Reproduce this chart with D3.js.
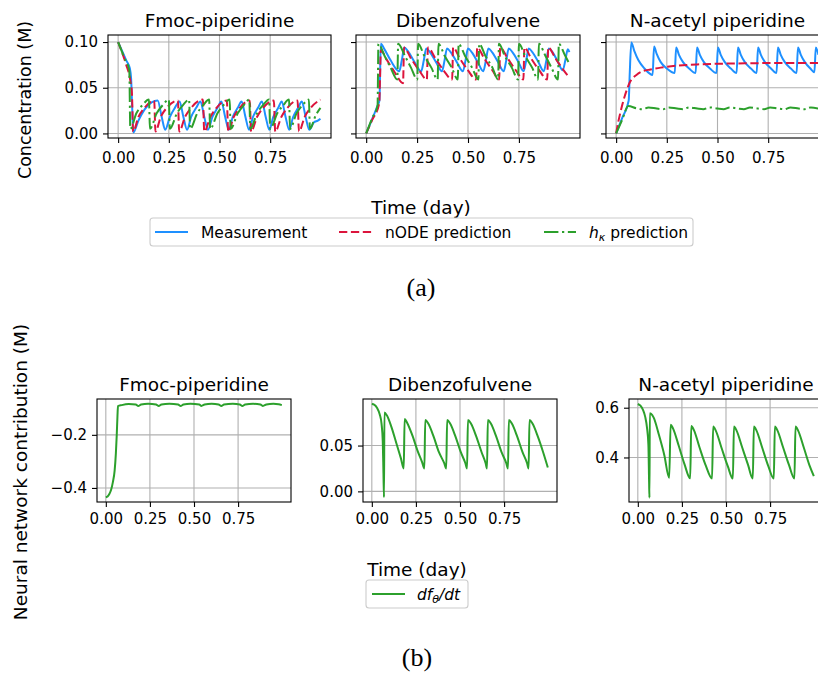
<!DOCTYPE html>
<html>
<head>
<meta charset="utf-8">
<script src="https://cdn.jsdelivr.net/npm/d3@7"></script>
<style>
  body { margin: 0; background: #fff; }
  svg { display: block; font-family: 'DejaVu Sans', sans-serif; }
</style>
</head>
<body>
<svg id="chart" width="818" height="677"></svg>
<script>
// ---- data ----
const titles = ['Fmoc-piperidine', 'Dibenzofulvene', 'N-acetyl piperidine'];
const xTicks = [0, 0.25, 0.5, 0.75];
const concTicks = [0, 0.05, 0.1];
const nnTicks = [[-0.4, -0.2], [0, 0.05], [0.4, 0.6]];

// (a) Fmoc-piperidine  [time (day), concentration (M)]
const fmocMeas = [[0,0.100],[0.02,0.090],[0.04,0.080],[0.058,0.071],[0.064,0.060],[0.069,0.030],[0.075,0.001],
  [0.10,0.014],[0.13,0.026],[0.165,0.034],[0.195,0.036],[0.215,0.018],[0.232,0.004],
  [0.255,0.018],[0.28,0.028],[0.303,0.035],[0.322,0.018],[0.34,0.004],
  [0.36,0.018],[0.385,0.028],[0.406,0.035],[0.425,0.018],[0.443,0.004],
  [0.465,0.018],[0.49,0.028],[0.509,0.035],[0.528,0.018],[0.546,0.004],
  [0.565,0.018],[0.59,0.028],[0.609,0.035],[0.628,0.018],[0.646,0.004],
  [0.665,0.018],[0.69,0.028],[0.709,0.035],[0.728,0.018],[0.746,0.004],
  [0.765,0.018],[0.79,0.028],[0.807,0.035],[0.826,0.018],[0.844,0.004],
  [0.863,0.018],[0.888,0.028],[0.906,0.035],[0.925,0.018],[0.943,0.004],
  [0.965,0.012],[0.985,0.014],[0.998,0.016]];
const fmocNode = [[0,0.100],[0.02,0.088],[0.04,0.075],[0.06,0.058],[0.068,0.044],[0.074,0.002],
  [0.10,0.018],[0.13,0.028],[0.178,0.036],[0.184,0.002],
  [0.21,0.018],[0.24,0.028],[0.295,0.036],[0.301,0.002],
  [0.33,0.018],[0.36,0.028],[0.418,0.037],[0.425,0.002],
  [0.455,0.018],[0.485,0.028],[0.536,0.036],[0.543,0.002],
  [0.57,0.018],[0.60,0.028],[0.649,0.036],[0.656,0.002],
  [0.685,0.018],[0.715,0.028],[0.768,0.036],[0.775,0.002],
  [0.805,0.018],[0.835,0.028],[0.885,0.036],[0.892,0.002],
  [0.92,0.018],[0.95,0.028],[0.998,0.037]];
const fmocHk = [[0,0.100],[0.03,0.083],[0.055,0.069],[0.06,0.005],
  [0.09,0.022],[0.12,0.031],[0.152,0.037],[0.157,0.005],
  [0.19,0.022],[0.22,0.031],[0.25,0.037],[0.255,0.005],
  [0.29,0.022],[0.32,0.031],[0.35,0.037],[0.355,0.005],
  [0.39,0.022],[0.42,0.031],[0.449,0.037],[0.454,0.005],
  [0.49,0.022],[0.52,0.031],[0.55,0.037],[0.555,0.005],
  [0.59,0.022],[0.62,0.031],[0.647,0.037],[0.652,0.005],
  [0.685,0.022],[0.715,0.031],[0.745,0.037],[0.75,0.005],
  [0.785,0.022],[0.815,0.031],[0.843,0.037],[0.848,0.005],
  [0.88,0.022],[0.91,0.031],[0.941,0.037],[0.946,0.005],
  [0.975,0.020],[0.998,0.028]];

// (a) Dibenzofulvene
const dbfMeas = [[0,0],[0.03,0.016],[0.055,0.030],[0.065,0.036],[0.072,0.098],
  [0.09,0.092],[0.12,0.080],[0.162,0.068],[0.175,0.080],[0.187,0.094],
  [0.205,0.090],[0.235,0.079],[0.27,0.068],[0.283,0.080],[0.295,0.093],
  [0.313,0.089],[0.343,0.078],[0.372,0.068],[0.385,0.080],[0.397,0.093],
  [0.415,0.089],[0.445,0.078],[0.475,0.068],[0.488,0.080],[0.50,0.093],
  [0.518,0.089],[0.548,0.078],[0.575,0.068],[0.588,0.080],[0.60,0.093],
  [0.618,0.089],[0.648,0.078],[0.675,0.068],[0.688,0.080],[0.70,0.093],
  [0.718,0.089],[0.748,0.078],[0.773,0.068],[0.786,0.080],[0.798,0.093],
  [0.816,0.089],[0.846,0.078],[0.872,0.068],[0.885,0.080],[0.897,0.093],
  [0.915,0.089],[0.94,0.079],[0.965,0.069],[0.978,0.080],[0.99,0.092],[0.998,0.089]];
const dbfNode = [[0,0],[0.03,0.015],[0.064,0.033],[0.068,0.060],[0.072,0.091],
  [0.10,0.081],[0.14,0.067],[0.181,0.055],[0.186,0.094],
  [0.22,0.082],[0.26,0.069],[0.298,0.059],[0.303,0.094],
  [0.34,0.082],[0.38,0.069],[0.422,0.059],[0.427,0.094],
  [0.46,0.082],[0.50,0.069],[0.54,0.059],[0.545,0.094],
  [0.58,0.082],[0.62,0.069],[0.653,0.059],[0.658,0.094],
  [0.695,0.082],[0.735,0.069],[0.772,0.059],[0.777,0.094],
  [0.81,0.082],[0.85,0.069],[0.889,0.059],[0.894,0.094],
  [0.93,0.082],[0.97,0.069],[0.998,0.061]];
const dbfHk = [[0,0],[0.03,0.017],[0.056,0.031],[0.06,0.098],
  [0.09,0.085],[0.12,0.072],[0.153,0.059],[0.157,0.098],
  [0.19,0.085],[0.22,0.072],[0.251,0.059],[0.255,0.098],
  [0.285,0.085],[0.32,0.072],[0.351,0.059],[0.355,0.098],
  [0.385,0.085],[0.42,0.072],[0.45,0.059],[0.454,0.098],
  [0.485,0.085],[0.52,0.072],[0.551,0.059],[0.555,0.098],
  [0.585,0.085],[0.62,0.072],[0.648,0.059],[0.652,0.098],
  [0.68,0.085],[0.715,0.072],[0.746,0.059],[0.75,0.098],
  [0.78,0.085],[0.815,0.072],[0.844,0.059],[0.848,0.098],
  [0.88,0.085],[0.91,0.072],[0.942,0.059],[0.946,0.098],
  [0.975,0.086],[0.998,0.076]];

// (a) N-acetyl piperidine
const napMeas = [[0,0],[0.03,0.017],[0.062,0.036],[0.067,0.065],[0.075,0.0995],
  [0.09,0.090],[0.11,0.080],[0.14,0.071],[0.18,0.064],[0.187,0.095],
  [0.20,0.087],[0.22,0.078],[0.25,0.071],[0.289,0.066],[0.296,0.094],
  [0.31,0.086],[0.33,0.078],[0.36,0.071],[0.392,0.066],[0.399,0.094],
  [0.413,0.086],[0.433,0.078],[0.463,0.071],[0.495,0.066],[0.502,0.094],
  [0.516,0.086],[0.536,0.078],[0.566,0.071],[0.594,0.066],[0.601,0.094],
  [0.615,0.086],[0.635,0.078],[0.665,0.071],[0.693,0.066],[0.70,0.094],
  [0.714,0.086],[0.734,0.078],[0.764,0.071],[0.791,0.066],[0.798,0.094],
  [0.812,0.086],[0.832,0.078],[0.862,0.071],[0.89,0.066],[0.897,0.094],
  [0.911,0.086],[0.931,0.078],[0.958,0.071],[0.978,0.067],[0.985,0.094],[0.998,0.086]];
const napNode = [[0,0],[0.01,0.012],[0.02,0.022],[0.03,0.031],[0.04,0.039],[0.05,0.046],[0.06,0.052],
  [0.07,0.057],[0.08,0.060],[0.10,0.064],[0.13,0.068],[0.17,0.070],[0.22,0.072],[0.30,0.0742],
  [0.40,0.0755],[0.50,0.0762],[0.60,0.0766],[0.70,0.0769],[0.80,0.0770],[0.90,0.0772],[1.0,0.0772]];
const napHk = [[0,0],[0.03,0.015],[0.06,0.030],[0.10,0.0275],[0.13,0.0265],[0.16,0.0285],
  [0.20,0.0272],[0.23,0.0265],[0.26,0.0285],[0.30,0.0272],[0.33,0.0265],[0.36,0.0285],
  [0.40,0.0272],[0.43,0.0265],[0.46,0.0285],[0.50,0.0272],[0.53,0.0265],[0.56,0.0285],
  [0.60,0.0272],[0.63,0.0265],[0.66,0.0285],[0.70,0.0272],[0.73,0.0265],[0.76,0.0285],
  [0.80,0.0272],[0.83,0.0265],[0.86,0.0285],[0.90,0.0272],[0.93,0.0265],[0.96,0.0285],[0.998,0.0272]];

// (b) neural network contribution df/dt
const nnFmoc = [[0,-0.435],[0.01,-0.432],[0.02,-0.423],[0.03,-0.407],[0.04,-0.378],[0.05,-0.335],
  [0.057,-0.27],[0.062,-0.20],[0.066,-0.13],[0.069,-0.092],
  [0.09,-0.088],[0.13,-0.084],[0.17,-0.086],[0.184,-0.091],[0.20,-0.086],[0.24,-0.083],
  [0.285,-0.086],[0.30,-0.091],[0.315,-0.086],[0.36,-0.083],[0.41,-0.086],[0.424,-0.091],
  [0.44,-0.086],[0.48,-0.083],[0.53,-0.086],[0.542,-0.091],[0.56,-0.086],[0.60,-0.083],
  [0.64,-0.086],[0.655,-0.091],[0.67,-0.086],[0.72,-0.083],[0.76,-0.086],[0.774,-0.091],
  [0.79,-0.086],[0.835,-0.083],[0.877,-0.086],[0.891,-0.091],[0.91,-0.086],[0.95,-0.083],
  [0.98,-0.085],[0.998,-0.088]];
const nnDbf = [[0,0.0953],[0.015,0.0945],[0.03,0.091],[0.045,0.084],[0.055,0.074],[0.062,0.055],
  [0.066,0.020],[0.069,-0.0065],[0.0715,0.086],
  [0.085,0.083],[0.11,0.071],[0.14,0.052],[0.165,0.036],[0.181,0.025],[0.186,0.079],
  [0.20,0.075],[0.23,0.061],[0.26,0.044],[0.285,0.032],[0.298,0.025],[0.303,0.078],
  [0.32,0.074],[0.35,0.060],[0.38,0.043],[0.41,0.031],[0.422,0.025],[0.427,0.078],
  [0.444,0.074],[0.474,0.060],[0.504,0.043],[0.53,0.031],[0.54,0.025],[0.545,0.078],
  [0.562,0.074],[0.592,0.060],[0.622,0.043],[0.645,0.031],[0.653,0.025],[0.658,0.078],
  [0.675,0.074],[0.705,0.060],[0.735,0.043],[0.762,0.031],[0.772,0.025],[0.777,0.078],
  [0.794,0.074],[0.824,0.060],[0.854,0.043],[0.88,0.031],[0.889,0.025],[0.894,0.078],
  [0.911,0.074],[0.941,0.060],[0.971,0.043],[0.998,0.026]];
const nnNap = [[0,0.615],[0.015,0.608],[0.03,0.590],[0.042,0.563],[0.052,0.520],[0.060,0.450],
  [0.064,0.300],[0.066,0.238],[0.068,0.578],
  [0.075,0.576],[0.09,0.560],[0.12,0.490],[0.15,0.410],[0.178,0.318],
  [0.186,0.532],[0.20,0.516],[0.232,0.447],[0.265,0.372],[0.297,0.316],
  [0.303,0.526],[0.318,0.510],[0.35,0.440],[0.385,0.368],[0.421,0.315],
  [0.427,0.524],[0.442,0.508],[0.474,0.440],[0.51,0.365],[0.539,0.315],
  [0.545,0.524],[0.56,0.508],[0.592,0.440],[0.625,0.370],[0.652,0.315],
  [0.658,0.524],[0.673,0.508],[0.705,0.440],[0.74,0.365],[0.771,0.315],
  [0.777,0.524],[0.792,0.508],[0.824,0.440],[0.857,0.370],[0.888,0.315],
  [0.894,0.524],[0.909,0.508],[0.941,0.440],[0.975,0.365],[0.998,0.325]];

// ---- styles ----
const BLUE = '#1e90ff', RED = '#dc143c', GREEN = '#2ca02c';
const DASH = '8.3,3.6', DASHDOT = '14.4,3.6,2.25,3.6';
const FONT = "'DejaVu Sans', sans-serif";

const svg = d3.select('#chart');
let clipCount = 0;

function drawPanel(p) {
  const x = d3.scaleLinear().domain([-0.05, 1.05]).range([p.left, p.right]);
  const y = d3.scaleLinear().domain(p.yDomain).range([p.bottom, p.top]);
  const g = svg.append('g');
  const id = 'clip' + (clipCount++);
  svg.append('clipPath').attr('id', id).append('rect')
    .attr('x', p.left).attr('y', p.top)
    .attr('width', p.right - p.left).attr('height', p.bottom - p.top);

  // grid
  g.selectAll('.gx').data(xTicks).join('line').attr('class', 'gx')
    .attr('x1', d => x(d)).attr('x2', d => x(d))
    .attr('y1', p.top).attr('y2', p.bottom)
    .attr('stroke', '#b0b0b0').attr('stroke-width', 1.1);
  g.selectAll('.gy').data(p.yTicks).join('line').attr('class', 'gy')
    .attr('y1', d => y(d)).attr('y2', d => y(d))
    .attr('x1', p.left).attr('x2', p.right)
    .attr('stroke', '#b0b0b0').attr('stroke-width', 1.1);

  // curves
  const line = d3.line().x(d => x(d[0])).y(d => y(d[1])).curve(d3.curveMonotoneX);
  g.append('g').attr('clip-path', `url(#${id})`)
    .selectAll('path').data(p.series).join('path')
    .attr('d', s => line(s.values))
    .attr('fill', 'none')
    .attr('stroke', s => s.color)
    .attr('stroke-width', 2)
    .attr('stroke-dasharray', s => s.dash)
    .attr('stroke-linejoin', 'round');

  // axes
  const xAxis = d3.axisBottom(x).tickValues(xTicks).tickFormat(d3.format('.2f'))
    .tickSize(5).tickPadding(p.xPad);
  const yAxis = d3.axisLeft(y).tickValues(p.yTicks)
    .tickFormat(p.yLabels ? d3.format(p.yFmt) : () => '')
    .tickSize(5).tickPadding(5);
  [[xAxis, `translate(0,${p.bottom})`], [yAxis, `translate(${p.left},0)`]].forEach(([ax, tr]) => {
    g.append('g').attr('transform', tr).call(ax)
      .attr('font-family', FONT).attr('font-size', 15)
      .call(a => a.select('.domain').remove())
      .call(a => a.selectAll('line').attr('stroke', '#000').attr('stroke-width', 1.1))
      .call(a => a.selectAll('text').attr('fill', '#000'));
  });

  // frame
  g.append('rect')
    .attr('x', p.left).attr('y', p.top)
    .attr('width', p.right - p.left).attr('height', p.bottom - p.top)
    .attr('fill', 'none').attr('stroke', '#000').attr('stroke-width', 1.1);

  // title
  g.append('text')
    .attr('x', (p.left + p.right) / 2).attr('y', p.top - 8.5)
    .attr('text-anchor', 'middle').attr('font-size', 18.5).attr('fill', '#000')
    .text(p.title);
}

// ---- (a) concentrations ----
const topBoxes = [[108, 331], [356, 580], [606, 829]];
const topSeries = [[fmocMeas, fmocNode, fmocHk], [dbfMeas, dbfNode, dbfHk], [napMeas, napNode, napHk]];
topBoxes.forEach((b, i) => {
  drawPanel({
    left: b[0], right: b[1], top: 35, bottom: 138,
    yDomain: [-0.005, 0.1077], yTicks: concTicks, yFmt: '.2f', yLabels: i === 0,
    xPad: 9.5, title: titles[i],
    series: [
      { values: topSeries[i][0], color: BLUE, dash: null },
      { values: topSeries[i][1], color: RED, dash: DASH },
      { values: topSeries[i][2], color: GREEN, dash: DASHDOT }
    ]
  });
});

// ---- (b) neural network contribution ----
const botBoxes = [[97, 291], [363, 557], [629, 823]];
const botDomains = [[-0.453, -0.065], [-0.0116, 0.1008], [0.221, 0.635]];
const botFmt = ['.1f', '.2f', '.1f'];
const botSeries = [nnFmoc, nnDbf, nnNap];
botBoxes.forEach((b, i) => {
  drawPanel({
    left: b[0], right: b[1], top: 399, bottom: 502,
    yDomain: botDomains[i], yTicks: nnTicks[i], yFmt: botFmt[i], yLabels: true,
    xPad: 6.5, title: titles[i],
    series: [{ values: botSeries[i], color: GREEN, dash: null }]
  });
});

// ---- labels ----
function label(txt, x, y, size, rotate) {
  svg.append('text')
    .attr('transform', `translate(${x},${y})` + (rotate ? ' rotate(-90)' : ''))
    .attr('text-anchor', 'middle').attr('font-size', size).attr('fill', '#000')
    .attr('dy', rotate ? '0.35em' : null)
    .text(txt);
}
label('Concentration (M)', 25, 100, 17.5, true);
label('Time (day)', 421, 214, 18.5, false);
label('Neural network contribution (M)', 21, 472, 18.5, true);
label('Time (day)', 417, 576, 18.5, false);

svg.append('text').attr('x', 421).attr('y', 296).attr('text-anchor', 'middle')
  .attr('font-family', "'Liberation Serif', serif").attr('font-size', 26).text('(a)');
svg.append('text').attr('x', 417).attr('y', 666).attr('text-anchor', 'middle')
  .attr('font-family', "'Liberation Serif', serif").attr('font-size', 26).text('(b)');

// ---- legends ----
function legendBox(x0, x1, y0, y1) {
  svg.append('rect').attr('x', x0).attr('y', y0).attr('width', x1 - x0).attr('height', y1 - y0)
    .attr('rx', 3).attr('fill', '#fff').attr('fill-opacity', 0.8)
    .attr('stroke', '#cccccc').attr('stroke-width', 1.1);
}
function legendLine(x0, x1, yy, color, dash) {
  svg.append('line').attr('x1', x0).attr('x2', x1).attr('y1', yy).attr('y2', yy)
    .attr('stroke', color).attr('stroke-width', 2).attr('stroke-dasharray', dash);
}

legendBox(150, 693, 218, 246);
legendLine(155, 188, 232, BLUE, null);
legendLine(339, 372, 232, RED, DASH);
legendLine(544, 576, 232, GREEN, DASHDOT);
const legY = 237.5;
svg.append('text').attr('x', 201).attr('y', legY).attr('font-size', 15.5).text('Measurement');
svg.append('text').attr('x', 385).attr('y', legY).attr('font-size', 15.5).text('nODE prediction');
const hk = svg.append('text').attr('x', 589).attr('y', legY).attr('font-size', 15.5);
hk.append('tspan').attr('font-style', 'italic').text('h');
hk.append('tspan').attr('font-style', 'italic').attr('font-size', 11).attr('dy', 3).text('κ');
hk.append('tspan').attr('dy', -3).text(' prediction');

legendBox(366, 468, 580, 608);
legendLine(372, 405, 594, GREEN, null);
const dfl = svg.append('text').attr('x', 417).attr('y', 599.5).attr('font-size', 15.5).attr('font-style', 'italic');
dfl.append('tspan').text('df');
dfl.append('tspan').attr('font-size', 11).attr('dy', 3).text('θ');
dfl.append('tspan').attr('dy', -3).text('/dt');
</script>
</body>
</html>
